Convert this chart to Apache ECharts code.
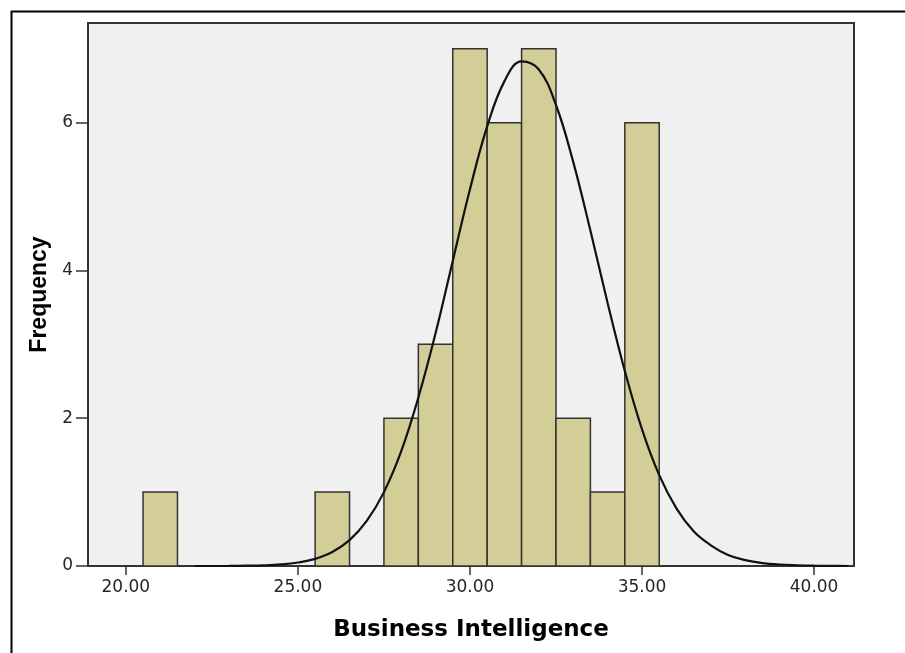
<!DOCTYPE html>
<html>
<head>
<meta charset="utf-8">
<title>Business Intelligence – Histogram</title>
<script src="https://cdn.jsdelivr.net/npm/echarts@6/dist/echarts.min.js"></script>
<style>
  html, body { margin: 0; padding: 0; background: #ffffff; }
  #chart { width: 905px; height: 653px; }
</style>
</head>
<body>
<div id="chart"></div>
<script>
// Histogram bins (bin centre, width 1) and their frequencies
const binCenters = [21, 26, 28, 29, 30, 31, 32, 33, 34, 35];
const binCounts  = [1, 1, 2, 3, 7, 6, 7, 2, 1, 6];
const binWidth = 1;

// Fitted normal curve, sampled along the x axis
const curveX = [22, 22.5, 23, 23.5, 24, 24.5, 25, 25.5, 26, 26.5, 27, 27.5, 28, 28.5,
                29, 29.5, 30, 30.5, 31, 31.5, 32, 32.5, 33, 33.5, 34, 34.5, 35, 35.5,
                36, 36.5, 37, 37.5, 38, 38.5, 39, 39.5, 40, 40.5, 41];
const curveY = [0.000, 0.000, 0.001, 0.004, 0.009, 0.021, 0.047, 0.097, 0.19, 0.35, 0.61, 1.00, 1.55, 2.28,
                3.15, 4.13, 5.10, 5.95, 6.56, 6.83, 6.72, 6.24, 5.47, 4.54, 3.56, 2.64, 1.85, 1.23,
                0.78, 0.47, 0.28, 0.15, 0.08, 0.04, 0.02, 0.01, 0.004, 0.001, 0.000];

// Axis tick values
const xTicks = [20, 25, 30, 35, 40];
const yTicks = [0, 2, 4, 6];

const barData = binCenters.map((c, i) => [c, binCounts[i]]);
const lineData = curveX.map((x, i) => [x, curveY[i]]);

const chart = echarts.init(document.getElementById('chart'), null, { renderer: 'canvas' });

const option = {
  animation: false,
  backgroundColor: '#ffffff',
  grid: {
    left: 88, top: 23, right: 51, bottom: 87,
    show: true,
    backgroundColor: '#f0f0f0',
    borderColor: '#333333',
    borderWidth: 2
  },
  xAxis: {
    type: 'value',
    min: 18.9,
    max: 41.16,
    name: 'Business Intelligence',
    nameLocation: 'middle',
    nameGap: 53,
    nameTextStyle: { fontFamily: 'DejaVu Sans', fontWeight: 'bold', fontSize: 23, color: '#000' },
    axisLine: { show: true, onZero: false, lineStyle: { color: '#333333', width: 2 } },
    axisTick: { show: true, inside: false, length: 9, customValues: xTicks, lineStyle: { color: '#333333', width: 1.5 } },
    axisLabel: {
      customValues: xTicks,
      margin: 13,
      fontFamily: 'DejaVu Sans', fontSize: 17, color: '#262626',
      formatter: v => v.toFixed(2)
    },
    splitLine: { show: false }
  },
  yAxis: {
    type: 'value',
    min: 0,
    max: 7.35,
    name: 'Frequency',
    nameLocation: 'middle',
    nameGap: 36,
    nameTextStyle: { fontFamily: 'Liberation Sans', fontWeight: 'bold', fontSize: 23, color: '#000' },
    axisLine: { show: true, lineStyle: { color: '#333333', width: 2 } },
    axisTick: { show: true, inside: false, length: 12, customValues: yTicks, lineStyle: { color: '#333333', width: 1.5 } },
    axisLabel: {
      customValues: yTicks,
      margin: 15,
      fontFamily: 'DejaVu Sans', fontSize: 17, color: '#262626'
    },
    splitLine: { show: false }
  },
  graphic: [
    // outer frame lines (top and left)
    { type: 'line', shape: { x1: 11, y1: 11.5, x2: 905, y2: 11.5 }, style: { stroke: '#000', lineWidth: 2 }, z: 100 },
    { type: 'line', shape: { x1: 11.5, y1: 11, x2: 11.5, y2: 653 }, style: { stroke: '#000', lineWidth: 2 }, z: 100 }
  ],
  series: [
    {
      type: 'custom',
      name: 'Frequency',
      data: barData,
      encode: { x: 0, y: 1 },
      renderItem: function (params, api) {
        const c = api.value(0);
        const n = api.value(1);
        const p0 = api.coord([c - binWidth / 2, n]);
        const p1 = api.coord([c + binWidth / 2, 0]);
        return {
          type: 'rect',
          shape: { x: p0[0], y: p0[1], width: p1[0] - p0[0], height: p1[1] - p0[1] },
          style: { fill: '#d3ce97', stroke: '#333333', lineWidth: 1.5 }
        };
      },
      z: 2
    },
    {
      type: 'line',
      name: 'Normal',
      data: lineData,
      smooth: 0.4,
      showSymbol: false,
      symbol: 'none',
      lineStyle: { color: '#111111', width: 2.2 },
      z: 3
    }
  ]
};

chart.setOption(option);
</script>
</body>
</html>
